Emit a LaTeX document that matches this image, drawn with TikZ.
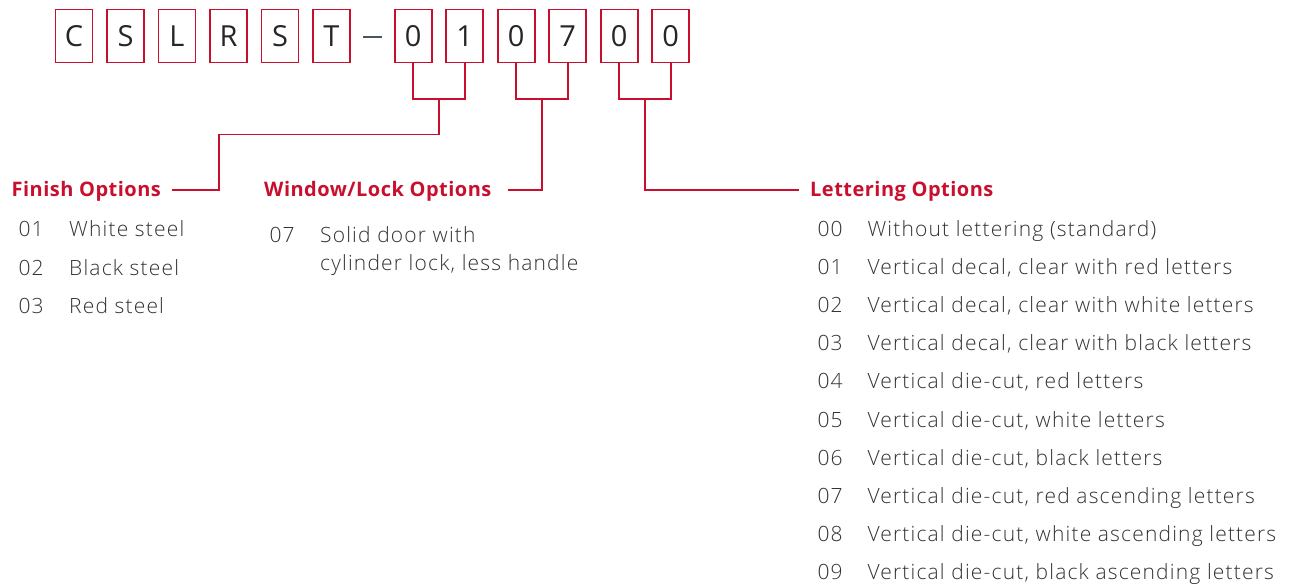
\documentclass[tikz,border=0pt]{standalone}
\usepackage{fontspec}
\setmainfont{Open Sans}
\IfFontExistsTF{Open Sans Light}
  {\newfontfamily\lightfont{Open Sans Light}[LetterSpace=5.6]}
  {\newfontfamily\lightfont{Open Sans}[LetterSpace=5.6]}
\newfontfamily\boxfont{Open Sans}
\newfontfamily\titlefont{Open Sans}[LetterSpace=2.4]
\definecolor{brandred}{RGB}{200,16,46}
\definecolor{txtgray}{RGB}{50,50,50}
\definecolor{dashgray}{RGB}{74,85,96}
\begin{document}
\begin{tikzpicture}[x=1pt,y=-1pt,
  digitbox/.style={draw=brandred,line width=1.6pt,minimum width=37pt,minimum height=53pt,inner sep=0pt,
     font=\boxfont\fontsize{29}{29}\selectfont,text=black!85},
  conn/.style={draw=brandred,line width=1.6pt},
  title/.style={anchor=base west,inner sep=0pt,text=brandred,font=\titlefont\fontsize{20}{22}\selectfont\bfseries},
  item/.style={anchor=base west,inner sep=0pt,text=txtgray,font=\lightfont\fontsize{21}{22}\selectfont},
  ]
\useasboundingbox (0,0) rectangle (1294,586);
% code boxes
\foreach \ch [count=\i from 0] in {C,S,L,R,S,T}{
  \node[digitbox] (p\i) at ({74+51.5*\i},36) {\ch};
}
\foreach \ch [count=\i from 1] in {0,1,0,7,0,0}{
  \node[digitbox] (d\i) at ({413.2+51.5*(\i-1)},36) {\ch};
}
\coordinate (dashL) at (363,36.7);
\coordinate (dashR) at (382,36.7);
\draw[dashgray,line width=2.2pt] (dashL) -- (dashR);

% bracket junctions
\coordinate (m1) at (438.9,99.3);
\coordinate (m2) at (541.9,99.3);
\coordinate (m3) at (644.9,99.3);

% titles
\node[title] (fin) at (11.5,196.5) {Finish Options};
\node[title] (win) at (264,196.5) {Window/Lock Options};
\node[title] (let) at (810,196.5) {Lettering Options};

\coordinate (finEnd) at (172,190);
\coordinate (winEnd) at (508,190);
\coordinate (letEnd) at (799,190);

% connectors
\draw[conn] (d1.south) |- (d2.south |- m1) -- (d2.south);
\draw[conn] (m1) -- (438.9,134.3) -| (219,190) -- (finEnd);
\draw[conn] (d3.south) |- (d4.south |- m2) -- (d4.south);
\draw[conn] (m2) |- (winEnd);
\draw[conn] (d5.south) |- (d6.south |- m3) -- (d6.south);
\draw[conn] (m3) |- (letEnd);

% finish list
\node[item] (f1n) at (18.3,236.7) {01};
\node[item] (f1t) at (69,236.7) {White steel};
\node[item] (f2n) at (18.3,275) {02};
\node[item] (f2t) at (69,275) {Black steel};
\node[item] (f3n) at (18.3,313.3) {03};
\node[item] (f3t) at (69,313.3) {Red steel};

% window list
\node[item] (w1n) at (269.3,242.3) {07};
\node[item] (w1t) at (320,242.3) {Solid door with};
\node[item] (w1u) at (320,270.3) {cylinder lock, less handle};

% lettering list
\foreach \num/\txt [count=\k from 0] in {
  00/{Without lettering (standard)},
  01/{Vertical decal, clear with red letters},
  02/{Vertical decal, clear with white letters},
  03/{Vertical decal, clear with black letters},
  04/{Vertical die-cut, red letters},
  05/{Vertical die-cut, white letters},
  06/{Vertical die-cut, black letters},
  07/{Vertical die-cut, red ascending letters},
  08/{Vertical die-cut, white ascending letters},
  09/{Vertical die-cut, black ascending letters}}{
  \node[item] (ln\k) at (817.3,{236+38.2*\k}) {\num};
  \node[item] (lt\k) at (867.3,{236+38.2*\k}) {\txt};
}
\end{tikzpicture}
\end{document}
